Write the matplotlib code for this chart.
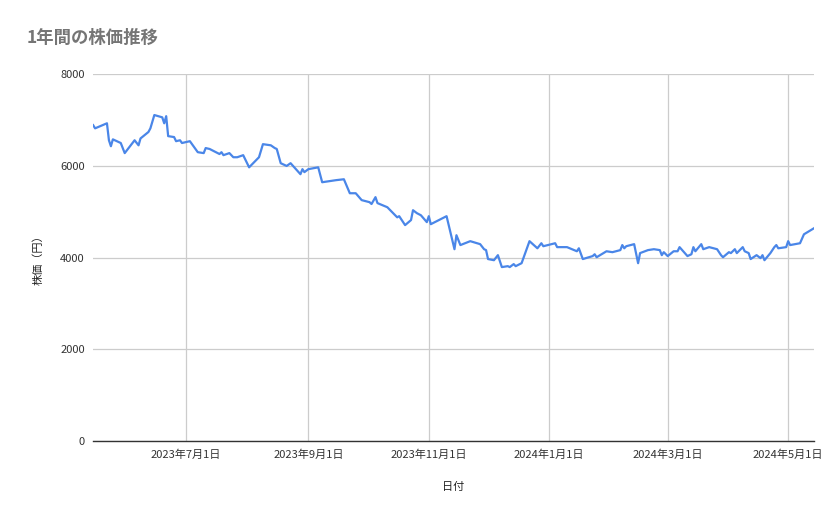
import matplotlib
matplotlib.use('Agg')
import matplotlib.pyplot as plt
import pandas as pd

plt.rcParams['font.family'] = ['Noto Sans CJK JP', 'DejaVu Sans']

dates = [
    '2023-05-15', '2023-05-16', '2023-05-22', '2023-05-23', '2023-05-24', '2023-05-25',
    '2023-05-29', '2023-05-31', '2023-06-05', '2023-06-07', '2023-06-08', '2023-06-12',
    '2023-06-13', '2023-06-15', '2023-06-19', '2023-06-20', '2023-06-21', '2023-06-22',
    '2023-06-25', '2023-06-26', '2023-06-28', '2023-06-29', '2023-07-03', '2023-07-07',
    '2023-07-10', '2023-07-11', '2023-07-13', '2023-07-18', '2023-07-19', '2023-07-20',
    '2023-07-23', '2023-07-25', '2023-07-27', '2023-07-30', '2023-08-02', '2023-08-07',
    '2023-08-09', '2023-08-13', '2023-08-15', '2023-08-16', '2023-08-18', '2023-08-21',
    '2023-08-23', '2023-08-28', '2023-08-29', '2023-08-30', '2023-09-01', '2023-09-06',
    '2023-09-08', '2023-09-12', '2023-09-15', '2023-09-19', '2023-09-22', '2023-09-25',
    '2023-09-28', '2023-10-02', '2023-10-03', '2023-10-05', '2023-10-06', '2023-10-11',
    '2023-10-16', '2023-10-17', '2023-10-20', '2023-10-23', '2023-10-24', '2023-10-26',
    '2023-10-28', '2023-10-31', '2023-11-01', '2023-11-02', '2023-11-10', '2023-11-14',
    '2023-11-15', '2023-11-17', '2023-11-22', '2023-11-27', '2023-11-29', '2023-11-30',
    '2023-12-01', '2023-12-04', '2023-12-06', '2023-12-08', '2023-12-11', '2023-12-12',
    '2023-12-14', '2023-12-15', '2023-12-18', '2023-12-22', '2023-12-26', '2023-12-28',
    '2023-12-29', '2024-01-04', '2024-01-05', '2024-01-10', '2024-01-15', '2024-01-16',
    '2024-01-18', '2024-01-23', '2024-01-24', '2024-01-25', '2024-01-30', '2024-02-02',
    '2024-02-06', '2024-02-07', '2024-02-08', '2024-02-09', '2024-02-13', '2024-02-15',
    '2024-02-16', '2024-02-20', '2024-02-23', '2024-02-26', '2024-02-27', '2024-02-28',
    '2024-03-01', '2024-03-04', '2024-03-06', '2024-03-07', '2024-03-11', '2024-03-13',
    '2024-03-14', '2024-03-15', '2024-03-18', '2024-03-19', '2024-03-22', '2024-03-26',
    '2024-03-28', '2024-03-29', '2024-04-01', '2024-04-02', '2024-04-04', '2024-04-05',
    '2024-04-08', '2024-04-09', '2024-04-11', '2024-04-12', '2024-04-15', '2024-04-17',
    '2024-04-18', '2024-04-19', '2024-04-22', '2024-04-24', '2024-04-25', '2024-04-26',
    '2024-04-30', '2024-05-01', '2024-05-02', '2024-05-07', '2024-05-09', '2024-05-14',
]
prices = [
    6890, 6820, 6930, 6560, 6430, 6580,
    6500, 6280, 6560, 6450, 6600, 6740,
    6820, 7110, 7060, 6930, 7085, 6650,
    6630, 6540, 6560, 6500, 6540, 6300,
    6280, 6390, 6370, 6260, 6300, 6235,
    6280, 6190, 6190, 6235, 5970, 6190,
    6475, 6450, 6390, 6370, 6060, 6000,
    6060, 5820, 5930, 5865, 5930, 5970,
    5645, 5670, 5690, 5710, 5405, 5405,
    5255, 5210, 5170, 5320, 5190, 5100,
    4880, 4905, 4710, 4820, 5035, 4970,
    4925, 4775, 4905, 4730, 4905, 4185,
    4490, 4275, 4360, 4295, 4185, 4165,
    3970, 3945, 4055, 3795, 3815, 3795,
    3860, 3815, 3880, 4360, 4205, 4315,
    4250, 4315, 4230, 4230, 4140, 4205,
    3970, 4035, 4075, 4010, 4140, 4120,
    4165, 4275, 4205, 4250, 4295, 3880,
    4100, 4165, 4185, 4165, 4055, 4120,
    4035, 4140, 4140, 4230, 4035, 4075,
    4230, 4140, 4295, 4185, 4230, 4185,
    4055, 4010, 4120, 4100, 4185, 4100,
    4230, 4140, 4100, 3970, 4055, 3990,
    4055, 3945, 4100, 4230, 4275, 4205,
    4230, 4360, 4275, 4315, 4510, 4640,
]
tick_dates = ['2023-07-01', '2023-09-01', '2023-11-01', '2024-01-01', '2024-03-01', '2024-05-01']
y_ticks = [0, 2000, 4000, 6000, 8000]

x = pd.to_datetime(dates)
ticks = pd.to_datetime(tick_dates)

fig = plt.figure(figsize=(8.39, 5.19), dpi=100)
ax = fig.add_axes([0.111, 0.150, 0.859, 0.707])

ax.plot(x, prices, color='#4a86e8', linewidth=1.6, zorder=3)

ax.set_xlim(x[0], x[-1])
ax.set_ylim(0, 8000)
ax.set_yticks(y_ticks)
ax.set_xticks(ticks)
ax.set_xticklabels([f'{t.year}年{t.month}月{t.day}日' for t in ticks])
ax.grid(True, color='#cccccc', linewidth=0.9, zorder=0)
ax.tick_params(length=0, labelsize=8, colors='#333333', pad=6)

for s in ['top', 'right', 'left']:
    ax.spines[s].set_visible(False)
ax.spines['bottom'].set_color('#333333')
ax.spines['bottom'].set_linewidth(1.0)

ax.set_xlabel('日付', fontsize=8, color='#222222', labelpad=16)
ax.set_ylabel('株価（円）', fontsize=8, color='#222222', labelpad=12)

fig.text(0.032, 0.927, '1年間の株価推移', fontsize=12.5, color='#757575',
         fontweight='bold', ha='left', va='center')

fig.savefig('out.png', dpi=100)
